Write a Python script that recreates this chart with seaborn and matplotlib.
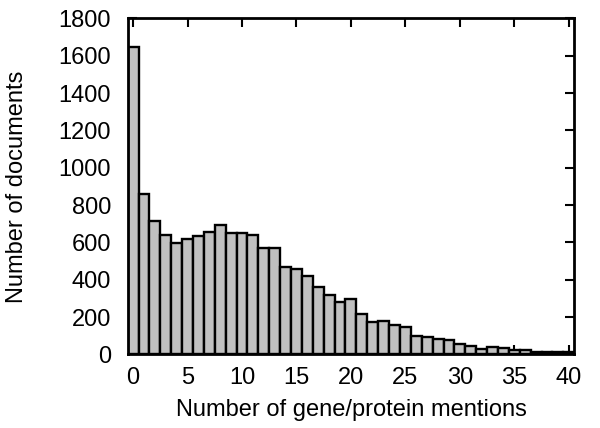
import matplotlib
matplotlib.use("Agg")
import matplotlib.pyplot as plt
import numpy as np
import pandas as pd
import seaborn as sns

# gen/protein mention sayisi (0..40) ve dokuman sayilari
mentions = list(range(0, 41))
doc_counts = [1645, 860, 715, 640, 599, 617, 633, 653, 694, 651,
              651, 640, 571, 571, 468, 455, 418, 359, 316, 280,
              295, 214, 171, 177, 159, 145, 100, 91, 80, 79,
              54, 43, 27, 37, 32, 25, 25, 13, 13, 13, 13]
x_ticks = [0, 5, 10, 15, 20, 25, 30, 35, 40]
y_ticks = [0, 200, 400, 600, 800, 1000, 1200, 1400, 1600, 1800]

df = pd.DataFrame({"mentions": mentions, "docs": doc_counts})

sns.set_style("ticks")
plt.rcParams['font.family'] = ['Liberation Sans', 'DejaVu Sans']

fig = plt.figure(figsize=(6, 4.28), dpi=100)
ax = fig.add_axes([0.2128, 0.172, 0.7442, 0.785])

sns.barplot(data=df, x="mentions", y="docs", native_scale=True, width=1.0,
            color="#c0c0c0", saturation=1, edgecolor="black", linewidth=1.7,
            ax=ax)

ax.set_xlim(-0.5, 40.5)
ax.set_ylim(0, 1800)
ax.set_xticks(x_ticks)
ax.set_xticklabels([str(t) for t in x_ticks])
ax.set_yticks(y_ticks)
ax.set_yticklabels([str(t) for t in y_ticks])

ax.tick_params(direction="in", length=6.5, width=1.5, top=True, right=True,
               labelsize=17, colors="black")
ax.tick_params(axis="x", pad=9)
ax.tick_params(axis="y", pad=12)
for s in ax.spines.values():
    s.set_linewidth(2)
    s.set_color("black")

ax.set_xlabel("Number of gene/protein mentions", fontsize=17, labelpad=7,
              color="black")
ax.set_ylabel("Number of documents", fontsize=17, labelpad=22, color="black")

fig.savefig("out.png", dpi=100)
